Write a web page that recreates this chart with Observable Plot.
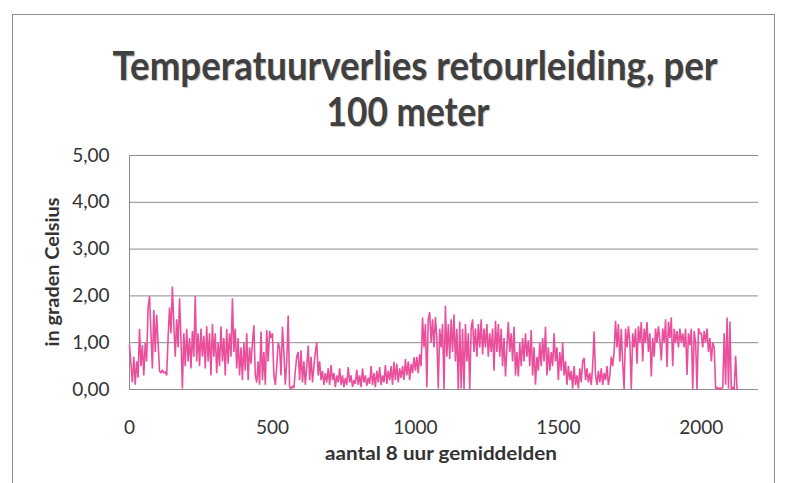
<!DOCTYPE html>
<html>
<head>
<meta charset="utf-8">
<script src="https://cdn.jsdelivr.net/npm/d3@7"></script>
<script src="https://cdn.jsdelivr.net/npm/@observablehq/plot@0.6"></script>
<style>
  html, body { margin: 0; padding: 0; background: #ffffff; }
  #wrap { position: relative; width: 790px; height: 483px; overflow: hidden; background: #ffffff; }
  #frame { position: absolute; left: 12px; top: 14px; width: 763px; height: 520px; border: 1px solid #8f8f8f; box-sizing: border-box; }
  #chart { position: absolute; left: 0; top: 0; }
</style>
</head>
<body>
<div id="wrap">
  <div id="frame"></div>
  <div id="chart"></div>
</div>
<script>
// Chart text
const titleLines = ["Temperatuurverlies retourleiding, per", "100 meter"];
const yTitle = "in graden Celsius";
const xTitle = "aantal 8 uur gemiddelden";

// Axis ticks
const yTicks = [0, 1, 2, 3, 4, 5];
const xTicks = [0, 500, 1000, 1500, 2000];

// Spacing (in "aantal") between the samples
const sampleStep = 5;

// Temperature loss (°C per 100 m), one value every 5 samples (0 … 2125)
const values = [
  0.95,0.55,0.15,0.7,0.1,0.6,0.25,1.3,0.5,0.95,0.3,1.0,0.6,1.75,2.0,1.2,0.45,1.7,0.8,1.6,
  1.0,0.4,0.35,0.42,0.35,0.38,0.3,1.1,1.75,1.2,2.2,1.4,0.7,1.5,0.9,1.95,1.1,0.02,1.2,0.5,
  1.3,0.6,1.1,0.45,1.25,0.7,2.0,0.6,1.2,0.5,1.3,0.7,1.15,0.45,1.35,0.6,1.2,0.3,1.4,0.7,
  1.2,0.35,1.0,0.5,1.35,0.6,1.1,0.3,1.3,0.55,1.2,0.7,1.95,0.8,1.3,0.45,1.1,0.3,0.9,0.2,
  1.0,0.4,1.2,0.2,0.9,0.55,1.0,1.37,0.3,0.15,0.6,0.1,1.24,0.2,0.8,0.1,1.27,0.6,1.25,1.1,
  1.2,0.3,0.1,0.5,1.0,0.9,0.3,1.34,0.8,0.1,0.6,1.58,0.05,0.02,0.08,0.03,0.4,0.7,0.8,0.2,
  0.84,0.15,0.6,0.1,0.5,0.94,0.2,0.7,0.15,0.5,0.8,1.01,0.3,0.6,0.2,0.4,0.1,0.35,0.15,0.45,
  0.1,0.52,0.2,0.35,0.05,0.3,0.15,0.45,0.1,0.3,0.05,0.25,0.1,0.48,0.15,0.3,0.05,0.2,0.12,0.42,
  0.1,0.3,0.05,0.45,0.15,0.3,0.08,0.25,0.12,0.5,0.1,0.35,0.05,0.4,0.15,0.48,0.1,0.3,0.15,0.52,
  0.12,0.4,0.2,0.5,0.1,0.59,0.2,0.55,0.15,0.45,0.25,0.5,0.2,0.65,0.3,0.6,0.2,0.55,0.35,0.69,
  0.4,0.7,0.35,0.75,0.5,1.54,0.9,1.4,0.05,1.5,1.65,1.0,1.5,0.9,1.55,1.1,0.02,1.3,0.9,1.4,
  0.0,1.79,0.7,1.4,0.65,1.5,0.8,1.6,0.6,1.3,0.0,1.45,0.02,1.3,0.0,1.4,0.6,1.2,0.0,1.3,
  1.5,0.8,1.3,0.7,1.4,0.9,1.5,0.75,1.3,0.9,1.4,0.7,1.2,0.8,1.3,0.4,1.47,0.8,1.4,0.7,
  1.3,0.5,1.1,0.28,0.9,1.44,0.8,1.2,0.6,1.34,0.3,0.8,0.28,1.0,0.5,1.1,0.6,1.2,0.7,1.05,
  0.5,1.27,0.3,0.9,0.1,0.7,0.4,1.0,0.5,1.1,0.6,1.34,0.3,0.9,0.4,0.8,0.5,1.2,0.6,0.9,
  0.2,0.8,0.4,1.0,0.3,0.6,0.1,0.5,0.2,0.4,0.02,0.5,0.1,0.3,0.02,0.45,0.15,0.6,0.68,0.2,
  0.45,0.15,0.35,0.1,0.5,1.24,0.3,0.1,0.4,0.15,0.45,0.1,0.35,0.2,0.5,0.1,0.3,0.7,0.5,0.8,
  1.47,0.9,1.4,0.6,1.3,0.56,0.0,1.3,0.9,1.35,1.0,0.0,1.2,0.9,1.3,0.55,1.35,1.0,1.44,0.6,
  1.3,1.0,1.44,0.8,1.2,0.28,1.1,0.7,1.3,1.0,1.35,1.05,0.62,1.3,1.0,1.5,0.48,1.45,1.1,1.54,
  0.5,1.3,1.0,1.25,0.9,1.3,1.0,1.2,0.9,1.3,0.31,1.2,0.95,1.3,0.0,1.25,1.0,0.0,1.31,1.2,
  1.2,0.9,1.25,1.0,1.3,0.8,1.1,0.6,1.0,0.9,0.02,0.05,0.0,0.04,0.0,0.05,1.2,0.1,1.54,0.02,
  1.45,0.0,0.05,0.0,0.72,0.0
];

const data = values.map((v, i) => ({x: i * sampleStep, y: v}));

const gridColor = "#8c8c8c";
const textColor = "#333333";

const chart = Plot.plot({
  width: 790,
  height: 483,
  marginLeft: 129,
  marginRight: 32,
  marginTop: 155,
  marginBottom: 94,
  style: {fontFamily: "Lato, 'Open Sans', sans-serif", fontSize: "19px", color: textColor, background: "transparent", overflow: "visible"},
  x: {domain: [0, 2200], ticks: xTicks, tickSize: 0, tickPadding: 31, tickFormat: d => String(d), label: null},
  y: {domain: [0, 5], ticks: yTicks, tickSize: 0, tickPadding: 20, tickFormat: d => d.toFixed(2).replace(".", ","), label: null},
  marks: [
    Plot.ruleY(yTicks, {stroke: gridColor, strokeWidth: 1}),
    Plot.ruleX([0], {stroke: gridColor, strokeWidth: 1}),
    Plot.line(data, {x: "x", y: "y", stroke: "#ea4f9c", strokeWidth: 1.6, strokeLinejoin: "miter"})
  ]
});
document.getElementById("chart").appendChild(chart);

const svg = d3.select(chart);
const titleFont = "Lato, 'Open Sans', sans-serif";
// Title (two centered lines)
svg.append("text")
  .attr("x", 415).attr("y", 80)
  .attr("text-anchor", "middle")
  .attr("font-family", titleFont).attr("font-weight", 700).attr("font-size", 40)
  .attr("fill", "#404040")
  .attr("textLength", 605).attr("lengthAdjust", "spacingAndGlyphs")
  .style("text-shadow", "1px 1px 1px rgba(0,0,0,0.25)")
  .text(titleLines[0]);
svg.append("text")
  .attr("x", 408).attr("y", 126)
  .attr("text-anchor", "middle")
  .attr("font-family", titleFont).attr("font-weight", 700).attr("font-size", 40)
  .attr("fill", "#404040")
  .attr("textLength", 163).attr("lengthAdjust", "spacingAndGlyphs")
  .style("text-shadow", "1px 1px 1px rgba(0,0,0,0.25)")
  .text(titleLines[1]);
// Axis titles
svg.append("text")
  .attr("transform", "translate(59,272) rotate(-90)")
  .attr("text-anchor", "middle")
  .attr("font-family", titleFont).attr("font-weight", 700).attr("font-size", 18)
  .attr("fill", textColor)
  .attr("textLength", 149).attr("lengthAdjust", "spacingAndGlyphs")
  .text(yTitle);
svg.append("text")
  .attr("x", 441).attr("y", 460)
  .attr("text-anchor", "middle")
  .attr("font-family", titleFont).attr("font-weight", 700).attr("font-size", 18)
  .attr("fill", textColor)
  .attr("textLength", 232).attr("lengthAdjust", "spacingAndGlyphs")
  .text(xTitle);
</script>
</body>
</html>
